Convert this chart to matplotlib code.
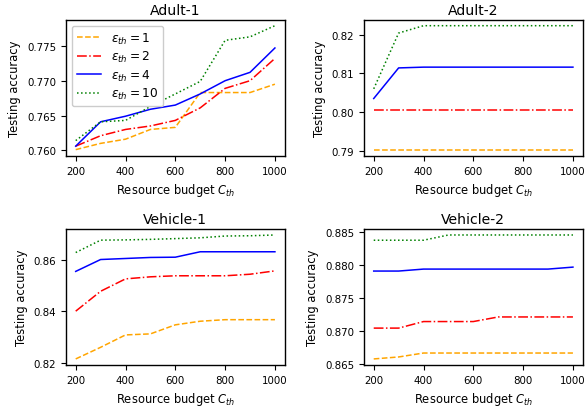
import matplotlib
matplotlib.use('Agg')
import matplotlib.pyplot as plt
from matplotlib.ticker import MultipleLocator

plt.rcParams['font.size'] = 8.3
plt.rcParams['axes.titlesize'] = 10.1
plt.rcParams['xtick.labelsize'] = 7.4
plt.rcParams['ytick.labelsize'] = 7.4
plt.rcParams['axes.linewidth'] = 1.0

# resource budgets on the x axis
budget = [200, 300, 400, 500, 600, 700, 800, 900, 1000]
eps_labels = [r'$\epsilon_{th}=1$', r'$\epsilon_{th}=2$', r'$\epsilon_{th}=4$', r'$\epsilon_{th}=10$']

# Adult-1
adult1_eps1 = [0.7601, 0.7610, 0.7616, 0.7630, 0.7633, 0.7683, 0.7683, 0.7683, 0.7695]
adult1_eps2 = [0.7606, 0.7621, 0.7630, 0.7635, 0.7643, 0.7661, 0.7689, 0.7700, 0.7732]
adult1_eps4 = [0.7606, 0.7641, 0.7649, 0.7659, 0.7665, 0.7681, 0.7700, 0.7712, 0.7747]
adult1_eps10 = [0.7614, 0.7641, 0.7643, 0.7663, 0.7681, 0.7699, 0.7758, 0.7763, 0.7779]

# Adult-2
adult2_eps1 = [0.7903] * 9
adult2_eps2 = [0.8005] * 9
adult2_eps4 = [0.8035, 0.8114, 0.8116, 0.8116, 0.8116, 0.8116, 0.8116, 0.8116, 0.8116]
adult2_eps10 = [0.8060, 0.8204, 0.8223, 0.8223, 0.8223, 0.8223, 0.8223, 0.8223, 0.8223]

# Vehicle-1
vehicle1_eps1 = [0.8215, 0.8260, 0.8308, 0.8312, 0.8347, 0.8361, 0.8367, 0.8367, 0.8367]
vehicle1_eps2 = [0.8400, 0.8477, 0.8525, 0.8533, 0.8537, 0.8537, 0.8537, 0.8543, 0.8556]
vehicle1_eps4 = [0.8554, 0.8600, 0.8604, 0.8608, 0.8609, 0.8630, 0.8630, 0.8630, 0.8630]
vehicle1_eps10 = [0.8627, 0.8675, 0.8676, 0.8678, 0.8681, 0.8684, 0.8691, 0.8692, 0.8695]

# Vehicle-2
vehicle2_eps1 = [0.8657, 0.8660, 0.8666, 0.8666, 0.8666, 0.8666, 0.8666, 0.8666, 0.8666]
vehicle2_eps2 = [0.8704, 0.8704, 0.8714, 0.8714, 0.8714, 0.8721, 0.8721, 0.8721, 0.8721]
vehicle2_eps4 = [0.8791, 0.8791, 0.8794, 0.8794, 0.8794, 0.8794, 0.8794, 0.8794, 0.8797]
vehicle2_eps10 = [0.8838, 0.8838, 0.8838, 0.8846, 0.8846, 0.8846, 0.8846, 0.8846, 0.8846]

panels = [
    ('Adult-1', [adult1_eps1, adult1_eps2, adult1_eps4, adult1_eps10], 0.005, '%.3f'),
    ('Adult-2', [adult2_eps1, adult2_eps2, adult2_eps4, adult2_eps10], 0.01, '%.2f'),
    ('Vehicle-1', [vehicle1_eps1, vehicle1_eps2, vehicle1_eps4, vehicle1_eps10], 0.02, '%.2f'),
    ('Vehicle-2', [vehicle2_eps1, vehicle2_eps2, vehicle2_eps4, vehicle2_eps10], 0.005, '%.3f'),
]
colors = ['orange', 'red', 'blue', 'green']
styles = ['--', '-.', '-', ':']

fig, axes = plt.subplots(2, 2, figsize=(5.87, 4.10), dpi=100)

for ax, (title, series, ystep, yfmt) in zip(axes.flat, panels):
    for vals, c, ls, lab in zip(series, colors, styles, eps_labels):
        ax.plot(budget, vals, color=c, linestyle=ls, linewidth=1.1, label=lab)
    ax.set_title(title, pad=4)
    ax.set_xlabel(r'Resource budget $C_{th}$')
    ax.set_ylabel('Testing accuracy')
    ax.set_xticks([200, 400, 600, 800, 1000])
    ax.yaxis.set_major_locator(MultipleLocator(ystep))
    ax.yaxis.set_major_formatter(plt.FormatStrFormatter(yfmt))

axes[0, 0].legend(loc='upper left', framealpha=1, fontsize=8.8, labelspacing=0.28)

plt.subplots_adjust(left=0.112, right=0.993, top=0.95, bottom=0.107,
                    wspace=0.36, hspace=0.535)
plt.savefig('out.png')
